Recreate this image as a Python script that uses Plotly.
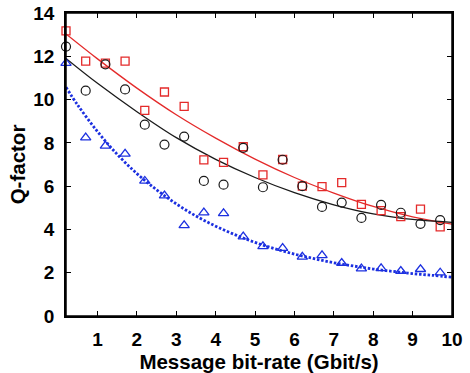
import plotly.graph_objects as go

# Measured data (Message bit-rate in Gbit/s)
bit_rate = [0.2, 0.7, 1.2, 1.7, 2.2, 2.7, 3.2, 3.7, 4.2, 4.7,
            5.2, 5.7, 6.2, 6.7, 7.2, 7.7, 8.2, 8.7, 9.2, 9.7]
q_red = [13.17, 11.78, 11.68, 11.78, 9.50, 10.35, 9.69, 7.21, 7.10, 7.82,
         6.52, 7.23, 6.00, 5.98, 6.16, 5.16, 4.87, 4.59, 4.94, 4.12]
q_black = [12.45, 10.41, 11.63, 10.47, 8.84, 7.92, 8.29, 6.24, 6.07, 7.77,
           5.95, 7.22, 6.00, 5.04, 5.24, 4.53, 5.13, 4.77, 4.26, 4.43]
q_blue = [11.68, 8.24, 7.86, 7.49, 6.24, 5.56, 4.19, 4.78, 4.74, 3.67,
          3.22, 3.14, 2.73, 2.80, 2.45, 2.19, 2.20, 2.08, 2.16, 2.00]

# Fitted curves
fit_x = [0.2, 1, 2, 3, 4, 5, 6, 7, 8, 9, 10]
fit_red = [13.03, 11.88, 10.53, 9.30, 8.22, 7.25, 6.40, 5.68, 5.06, 4.58, 4.24]
fit_black = [11.90, 10.75, 9.44, 8.24, 7.24, 6.40, 5.70, 5.14, 4.72, 4.46, 4.33]
fit_blue_x = [0.2, 0.5, 1, 1.5, 2, 2.5, 3, 3.5, 4, 4.5, 5, 5.5, 6, 6.5,
              7, 7.5, 8, 8.5, 9, 9.5, 10]
fit_blue = [10.57, 9.74, 8.52, 7.47, 6.58, 5.83, 5.18, 4.62, 4.15, 3.75,
            3.40, 3.11, 2.86, 2.65, 2.46, 2.31, 2.17, 2.06, 1.96, 1.88, 1.79]

x_ticks = [1, 2, 3, 4, 5, 6, 7, 8, 9, 10]
y_ticks = [0, 2, 4, 6, 8, 10, 12, 14]

RED = "#e42a2a"
BLACK = "#1a1a1a"
BLUE = "#1c30e0"

fig = go.Figure()
fig.add_trace(go.Scatter(x=fit_x, y=fit_red, mode="lines",
                         line=dict(color=RED, width=1.3, shape="spline"),
                         showlegend=False))
fig.add_trace(go.Scatter(x=fit_x, y=fit_black, mode="lines",
                         line=dict(color=BLACK, width=1.3, shape="spline"),
                         showlegend=False))
fig.add_trace(go.Scatter(x=fit_blue_x, y=fit_blue, mode="lines",
                         line=dict(color=BLUE, width=2.8, dash="2.5px,1.8px",
                                   shape="spline"),
                         showlegend=False))
fig.add_trace(go.Scatter(x=bit_rate, y=q_red, mode="markers", cliponaxis=False,
                         marker=dict(symbol="square-open", size=8, color=RED,
                                     line=dict(width=1.3)),
                         showlegend=False))
fig.add_trace(go.Scatter(x=bit_rate, y=q_black, mode="markers", cliponaxis=False,
                         marker=dict(symbol="circle-open", size=9, color=BLACK,
                                     line=dict(width=1.2)),
                         showlegend=False))
fig.add_trace(go.Scatter(x=bit_rate, y=q_blue, mode="markers", cliponaxis=False,
                         marker=dict(symbol="triangle-up-open", size=9, color=BLUE,
                                     line=dict(width=1.3)),
                         showlegend=False))

font_family = "Liberation Sans, Arial, sans-serif"
fig.update_layout(
    template="none",
    width=470, height=373,
    margin=dict(l=66, r=18, t=13, b=57),
    paper_bgcolor="white", plot_bgcolor="white",
    font=dict(family=font_family, color="black"),
    xaxis=dict(
        range=[0.2, 10], tickvals=x_ticks, ticks="inside", ticklen=5,
        tickcolor="black", tickwidth=1,
        showline=True, linecolor="black", linewidth=1.5, mirror="ticks",
        showgrid=False, zeroline=False, automargin=False,
        ticklabelstandoff=5, ticklabeloverflow="allow",
        tickfont=dict(size=19, weight="bold", family=font_family),
        title=dict(text="Message bit-rate (Gbit/s)", standoff=2,
                   font=dict(size=20.5, weight="bold", family=font_family)),
    ),
    yaxis=dict(
        range=[0, 14], tickvals=y_ticks, ticks="inside", ticklen=5,
        tickcolor="black", tickwidth=1,
        showline=True, linecolor="black", linewidth=1.5, mirror="ticks",
        showgrid=False, zeroline=False, automargin=False,
        ticklabelstandoff=6, ticklabeloverflow="allow",
        tickfont=dict(size=19, weight="bold", family=font_family),
        title=dict(text="Q-factor", standoff=2,
                   font=dict(size=20.5, weight="bold", family=font_family)),
    ),
    shapes=[dict(type="rect", xref="paper", yref="paper", x0=0, x1=1, y0=0, y1=1,
                 line=dict(color="black", width=1.5), layer="above")],
)

# Remove the default 8px page margin so the figure fills the window exactly.
fig.write_html("out.html", config={"displayModeBar": False},
               post_script="document.body.style.margin='0';")
